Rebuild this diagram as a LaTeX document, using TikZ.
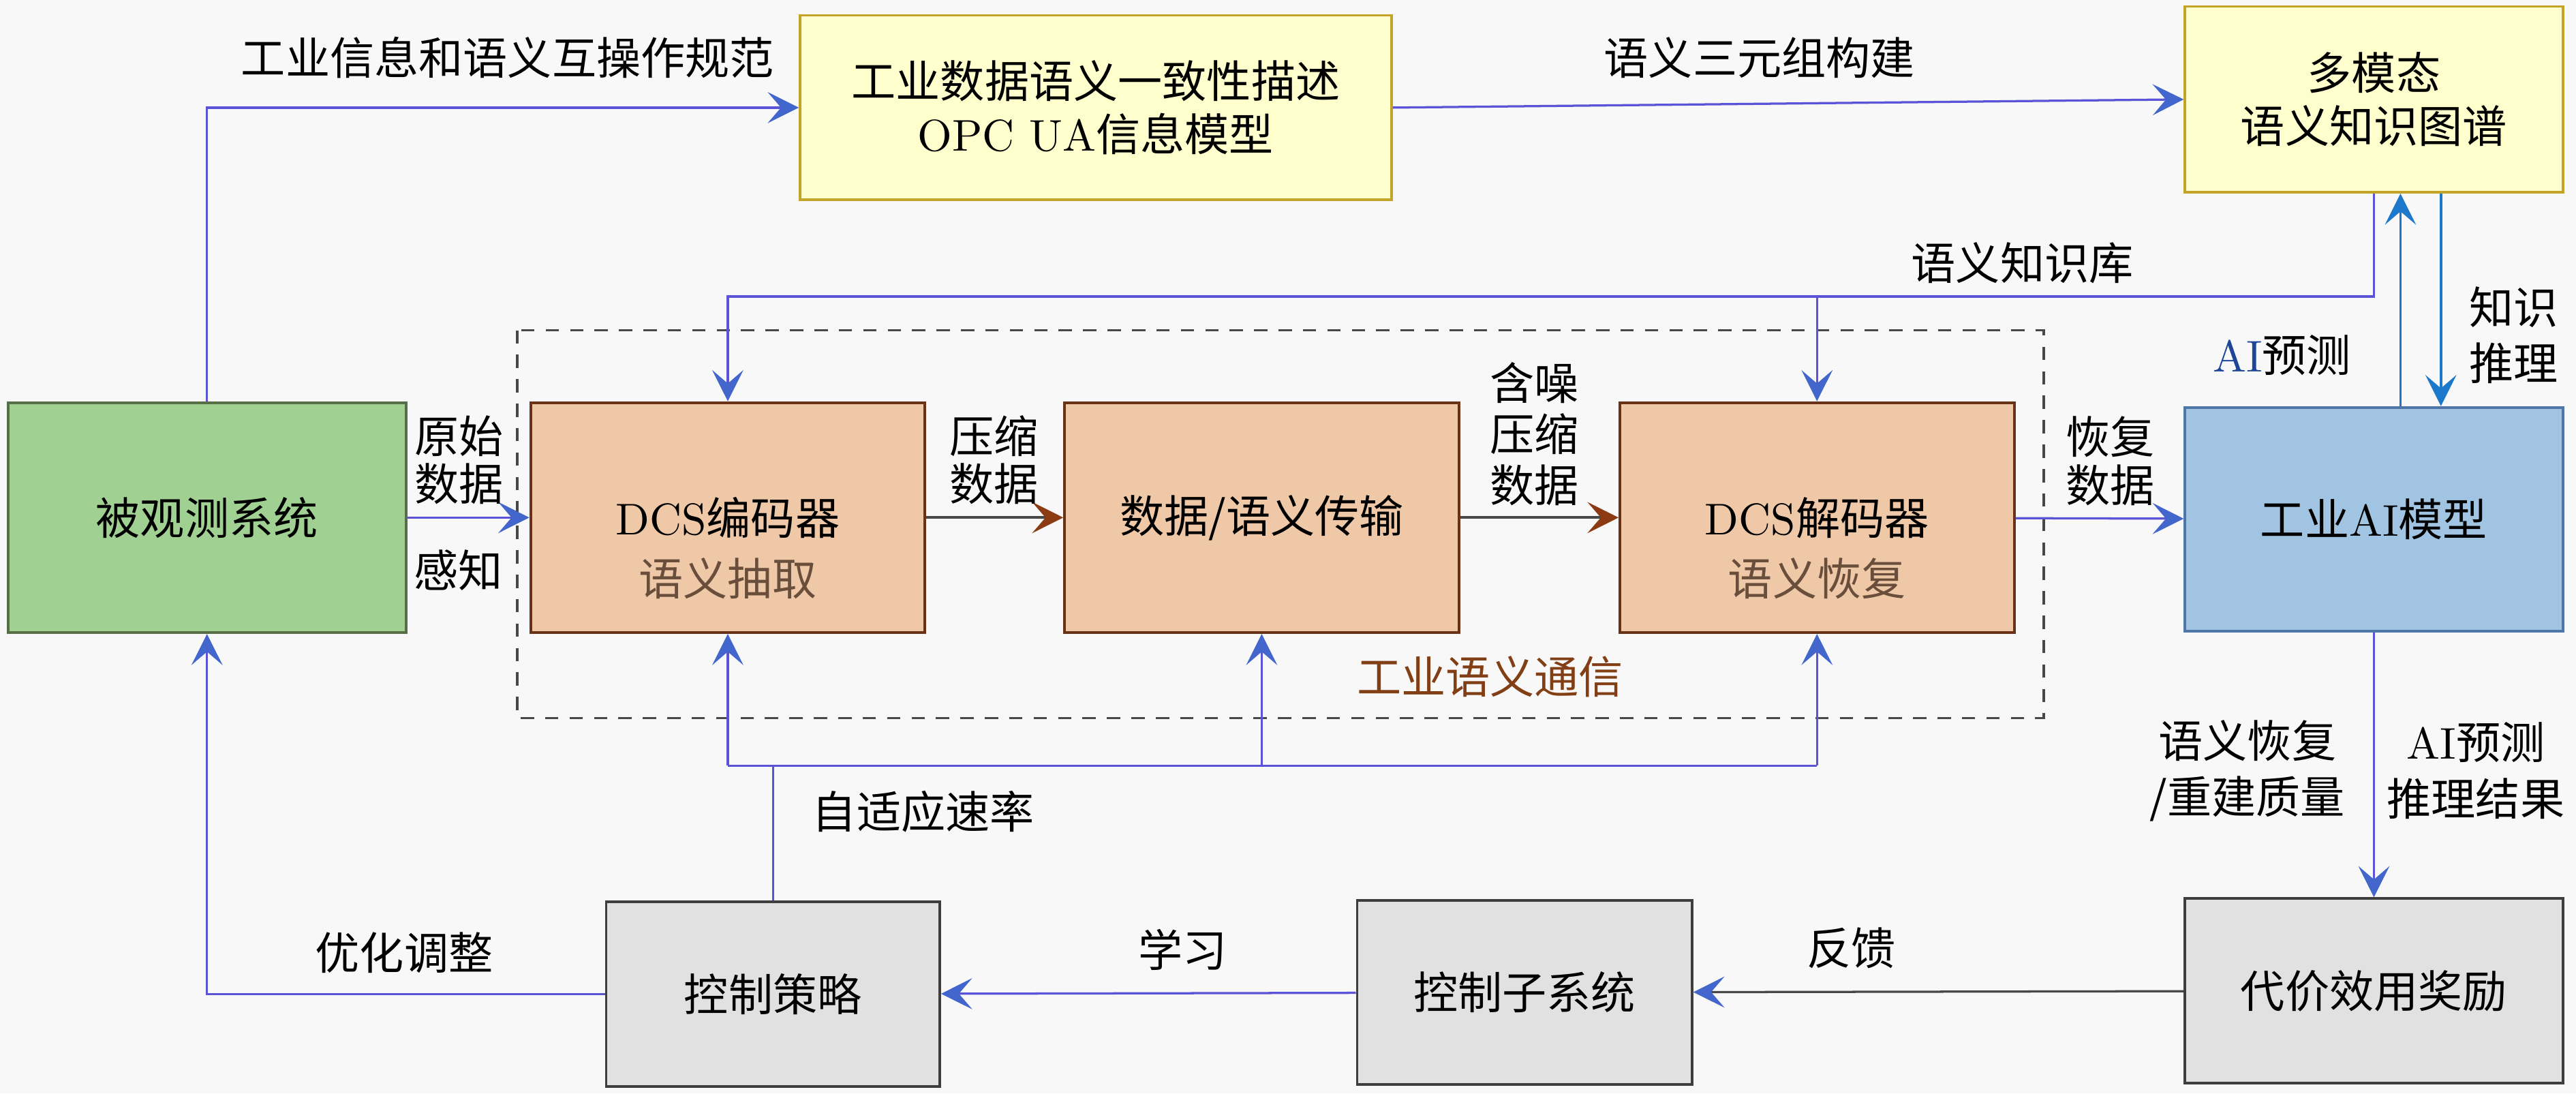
\documentclass[tikz,border=0pt]{standalone}
\usepackage{fontspec}
\usepackage{xcolor}
\usepackage{tikz}
\usetikzlibrary{arrows.meta}
\newfontfamily\cjk{Noto Sans CJK SC}

\definecolor{bgcol}{RGB}{248,248,248}
\definecolor{grnfill}{RGB}{160,208,146}
\definecolor{grndraw}{RGB}{88,110,70}
\definecolor{yelfill}{RGB}{255,255,206}
\definecolor{yeldraw}{RGB}{196,164,40}
\definecolor{orfill}{RGB}{239,200,168}
\definecolor{ordraw}{RGB}{105,50,22}
\definecolor{blfill}{RGB}{160,196,226}
\definecolor{bldraw}{RGB}{78,118,168}
\definecolor{gyfill}{RGB}{225,225,225}
\definecolor{gydraw}{RGB}{62,62,62}
\definecolor{linec}{RGB}{92,84,214}
\definecolor{headc}{RGB}{66,102,204}
\definecolor{knowc}{RGB}{28,120,202}
\definecolor{dkline}{RGB}{72,72,72}
\definecolor{brhead}{RGB}{140,58,18}
\definecolor{subtext}{RGB}{105,78,60}
\definecolor{commtext}{RGB}{130,62,20}
\definecolor{aitext}{RGB}{30,70,150}

\newcommand{\latn}[1]{{\rmfamily #1}}

\begin{document}
\begin{tikzpicture}[x=0.013cm,y=-0.013cm,font=\cjk\fontsize{10}{12}\selectfont,
  box/.style={draw,line width=0.6pt,align=center,inner sep=1pt},
  greenbox/.style={box,fill=grnfill,draw=grndraw,minimum width=3.15cm,minimum height=1.82cm},
  yellowbox/.style={box,fill=yelfill,draw=yeldraw,minimum height=1.46cm},
  orangebox/.style={box,fill=orfill,draw=ordraw,minimum width=3.12cm,minimum height=1.82cm},
  bluebox/.style={box,fill=blfill,draw=bldraw,minimum width=2.99cm,minimum height=1.77cm},
  greybox/.style={box,fill=gyfill,draw=gydraw,minimum height=1.46cm},
  lab/.style={inner sep=0pt,align=center,font=\cjk\fontsize{10}{10.8}\selectfont},
  headtip/.style={-{Stealth[length=7pt,width=7pt,inset=3pt,color=#1]}},
  bl/.style={draw=linec,line width=0.5pt,headtip=headc},
  kn/.style={draw=knowc,line width=0.6pt,headtip=knowc},
  brn/.style={draw=dkline,line width=0.6pt,headtip=brhead},
  gyl/.style={draw=dkline,line width=0.5pt,headtip=headc},
  dashbox/.style={draw=dkline,line width=0.6pt,dash pattern=on 3pt off 2.5pt}]
\fill[bgcol] (0,0) rectangle (1568,665.4);
%% dashed frame of the communication part
\draw[dashbox] (315,201) rectangle (1244,437);
\node[lab,text=commtext] (comm) at (907,412) {工业语义通信};

%% boxes
\node[greenbox] (obs) at (126,315) {被观测系统};
\node[yellowbox,minimum width=4.68cm] (opc) at (667,65.5) {工业数据语义一致性描述\\\latn{OPC UA}信息模型};
\node[yellowbox,minimum width=2.99cm,minimum height=1.47cm] (kg) at (1445,60.5) {多模态\\语义知识图谱};
\node[orangebox,label={[name=encs,text=subtext,yshift=-0.48cm]center:语义抽取}] (enc) at (443,315) {\latn{DCS}编码器};
\node[orangebox] (trans) at (768,315) {数据/语义传输};
\node[orangebox,label={[name=decs,text=subtext,yshift=-0.48cm]center:语义恢复}] (dec) at (1106,315) {\latn{DCS}解码器};
\node[bluebox] (ai) at (1445,316) {工业\latn{AI}模型};
\node[greybox,minimum width=2.64cm] (strat) at (470.5,605) {控制策略};
\node[greybox,minimum width=2.65cm] (sub) at (928,604) {控制子系统};
\node[greybox,minimum width=2.99cm] (cost) at (1445,603) {代价效用奖励};

%% connectors
\draw[bl] (obs.north) |- (opc.west);
\node[lab] (lspec) at (309,35) {工业信息和语义互操作规范};
\draw[bl] (opc.east) -- (kg.west);
\node[lab] (ltri) at (1071,35) {语义三元组构建};
\coordinate (kb) at (1106,180.5);
\draw[bl] (kg.south) |- (kb) -| (enc.north);
\draw[bl] (kb) -- (dec.north);
\node[lab] (lkb) at (1231,160) {语义知识库};
\draw[kn] ([xshift=0.21cm]ai.north) -- ([xshift=0.21cm]kg.south);
\draw[kn] ([xshift=0.53cm]kg.south) -- ([xshift=0.53cm]ai.north);
\node[lab] (lpred) at (1389,216) {{\color{aitext}\latn{AI}}预测};
\node[lab,font=\cjk\fontsize{10}{12.6}\selectfont] (lreas) at (1530,204) {知识\\推理};
\draw[bl] (obs) -- (enc);
\node[lab] (lraw) at (279.5,280) {原始\\数据};
\node[lab] (lsense) at (279,347) {感知};
\draw[brn] (enc) -- (trans);
\node[lab] (lcomp) at (605,280) {压缩\\数据};
\draw[brn] (trans) -- (dec);
\node[lab,font=\cjk\fontsize{10}{11.5}\selectfont] (lnoisy) at (934,264) {含噪\\压缩\\数据};
\draw[bl] (dec) -- (ai);
\node[lab] (lrec) at (1284.5,280.5) {恢复\\数据};
\draw[bl] (ai) -- (cost);
\node[lab,font=\cjk\fontsize{10}{12.6}\selectfont] (lqual) at (1368,469) {语义恢复\\/重建质量};
\node[lab,font=\cjk\fontsize{10}{12.6}\selectfont] (lres) at (1507,469) {\latn{AI}预测\\推理结果};
\draw[gyl] (cost) -- (sub);
\node[lab] (lfb) at (1127,577) {反馈};
\draw[bl] (sub) -- (strat);
\node[lab] (llearn) at (720,578) {学习};
\draw[bl] (strat.west) -| (obs.south);
\node[lab] (ladj) at (246,580) {优化调整};
\coordinate (ar) at (470.5,466);
\draw[draw=linec,line width=0.5pt] (strat.north) -- (strat.north |- ar);
\draw[draw=linec,line width=0.5pt] (enc.south |- ar) -- (dec.south |- ar);
\foreach \n in {enc,trans,dec}
    \draw[bl] (\n.south |- ar) -- (\n.south);
\node[lab] (lrate) at (562,494) {自适应速率};
\end{tikzpicture}
\end{document}
